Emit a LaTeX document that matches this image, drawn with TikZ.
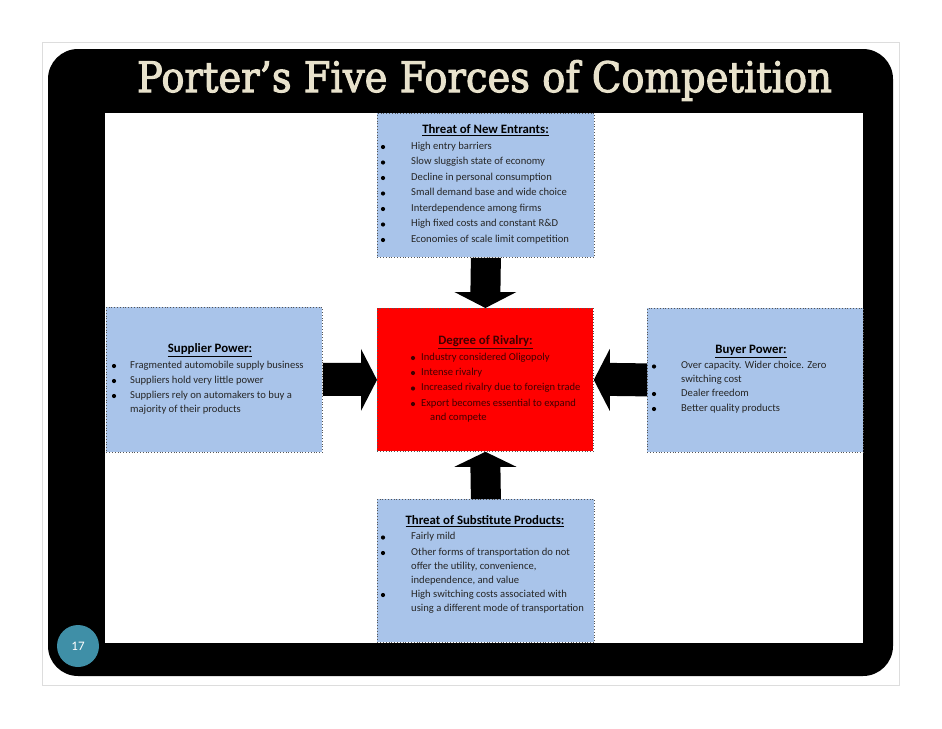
\documentclass[tikz,border=0pt]{standalone}
\usepackage{fontspec}
\usepackage{graphicx}
\setmainfont{Carlito}
\newfontfamily\titlefont[FakeBold=2.5,UprightFeatures={FakeBold=2.5}]{DejaVu Serif}
\usetikzlibrary{calc}
\definecolor{boxblue}{HTML}{A9C4EA}
\definecolor{titlebeige}{HTML}{E8E2CC}
\definecolor{pageteal}{HTML}{3F8FA7}
\definecolor{redtext}{HTML}{420000}
\definecolor{bodygray}{HTML}{262626}
\definecolor{framegray}{HTML}{DDDDDD}
\definecolor{dotgray}{HTML}{555555}
\newlength\titlewd
\tikzset{
  bx/.style={draw=dotgray, dotted, line width=0.8pt, fill=boxblue, inner sep=0pt, anchor=north west},
  txt/.style={anchor=mid west, inner sep=0pt, font=\fontsize{10.6}{12}\selectfont, text=bodygray},
  hd/.style={anchor=mid, inner sep=0pt, font=\bfseries\fontsize{12.8}{14}\selectfont, text=black},
  dot/.style={circle, fill=black, inner sep=0pt, minimum size=4.2pt},
  bigarrow/.style={fill=black}
}
\begin{document}
\settowidth\titlewd{\titlefont\fontsize{42}{48}\selectfont Porter’s Five Forces of Competition}%
\pgfmathsetmacro\tratio{695/\titlewd}%
\begin{tikzpicture}[x=1pt, y=-1pt]
\useasboundingbox[fill=white] (0,0) rectangle (942,728);
% slide frame
\draw[framegray, line width=0.8pt] (42,42) rectangle (899,685);
\fill[black, rounded corners=30pt] (48,49) rectangle (893,676);
\fill[white] (105,113) rectangle (863,643);
\node[anchor=base, inner sep=0pt, text=titlebeige] (title) at (484.5,92)
  {\scalebox{\tratio}[1]{\titlefont\fontsize{42}{48}\selectfont Porter’s Five Forces of Competition}};
\node[circle, fill=pageteal, minimum size=42pt, inner sep=0pt, text=white, font=\fontsize{13}{14}\selectfont] (page) at (78,646) {17};

% boxes
\node[bx, minimum width=217pt, minimum height=144pt] (top) at (377,113) {};
\node[bx, fill=red, minimum width=216pt, minimum height=143pt] (mid) at (377,308) {};
\node[bx, minimum width=216pt, minimum height=145pt] (sup) at (106,307) {};
\node[bx, minimum width=216pt, minimum height=144pt] (buy) at (647,308) {};
\node[bx, minimum width=217pt, minimum height=143pt] (bot) at (377,499) {};

% arrows
\fill[bigarrow] ($(top.south)+(-15,0)$) -- ($(mid.north)+(-15,-16)$) -- ($(mid.north)+(-31,-16)$)
  -- (mid.north) -- ($(mid.north)+(31,-16)$) -- ($(mid.north)+(15,-16)$) -- ($(top.south)+(15,0)$) -- cycle;
\fill[bigarrow] ($(bot.north)+(-15,0)$) -- ($(mid.south)+(-15,15)$) -- ($(mid.south)+(-31,15)$)
  -- (mid.south) -- ($(mid.south)+(31,15)$) -- ($(mid.south)+(15,15)$) -- ($(bot.north)+(15,0)$) -- cycle;
\fill[bigarrow] ($(sup.east)+(0,-17)$) -- ($(mid.west)+(-16,-17)$) -- ($(mid.west)+(-16,-31)$)
  -- (mid.west) -- ($(mid.west)+(-16,31)$) -- ($(mid.west)+(-16,16)$) -- ($(sup.east)+(0,16)$) -- cycle;
\fill[bigarrow] ($(buy.west)+(0,-17)$) -- ($(mid.east)+(16,-17)$) -- ($(mid.east)+(16,-31)$)
  -- (mid.east) -- ($(mid.east)+(16,31)$) -- ($(mid.east)+(16,16)$) -- ($(buy.west)+(0,16)$) -- cycle;

% top box text
\node[hd] (tth) at (485.5,131) {\underline{Threat of New Entrants:}};
\node[dot] (tb1) at (383,147) {}; \node[txt] (tt1) at (411,147) {High entry barriers};
\node[dot] (tb2) at (383,162.5) {}; \node[txt] (tt2) at (411,162.5) {Slow sluggish state of economy};
\node[dot] (tb3) at (383,178) {}; \node[txt] (tt3) at (411,178) {Decline in personal consumption};
\node[dot] (tb4) at (383,193.5) {}; \node[txt] (tt4) at (411,193.5) {Small demand base and wide choice};
\node[dot] (tb5) at (383,209) {}; \node[txt] (tt5) at (411,209) {Interdependence among firms};
\node[dot] (tb6) at (383,224.5) {}; \node[txt] (tt6) at (411,224.5) {High fixed costs and constant R\&D};
\node[dot] (tb7) at (383,240) {}; \node[txt] (tt7) at (411,240) {Economies of scale limit competition};

% supplier text
\node[hd] (sh) at (210,350) {\underline{Supplier Power:}};
\node[dot] (sb1) at (114,366) {}; \node[txt] (st1) at (130,366) {Fragmented automobile supply business};
\node[dot] (sb2) at (114,381) {}; \node[txt] (st2) at (130,381) {Suppliers hold very little power};
\node[dot] (sb3) at (114,396) {}; \node[txt] (st3) at (130,396) {Suppliers rely on automakers to buy a};
\node[txt] (st4) at (130,410.5) {majority of their products};

% buyer text
\node[hd] (bh) at (751,351) {\underline{Buyer Power:}};
\node[dot] (bb1) at (654,366.5) {}; \node[txt] (bt1) at (681,366.5) {Over capacity. Wider choice. Zero};
\node[txt] (bt2) at (681,380) {switching cost};
\node[dot] (bb3) at (654,394) {}; \node[txt] (bt3) at (681,394) {Dealer freedom};
\node[dot] (bb4) at (654,409) {}; \node[txt] (bt4) at (681,409) {Better quality products};

% rivalry text
\node[hd, text=redtext] (rh) at (485.5,342.5) {\underline{Degree of Rivalry:}};
\node[dot, fill=redtext] (rb1) at (413,358) {}; \node[txt, text=redtext] (rt1) at (421,358) {Industry considered Oligopoly};
\node[dot, fill=redtext] (rb2) at (413,373) {}; \node[txt, text=redtext] (rt2) at (421,373) {Intense rivalry};
\node[dot, fill=redtext] (rb3) at (413,388.5) {}; \node[txt, text=redtext] (rt3) at (421,388.5) {Increased rivalry due to foreign trade};
\node[dot, fill=redtext] (rb4) at (413,404) {}; \node[txt, text=redtext] (rt4) at (421,404) {Export becomes essential to expand};
\node[txt, text=redtext] (rt5) at (430,418.5) {and compete};

% substitute text
\node[hd] (uh) at (485,522) {\underline{Threat of Substitute Products:}};
\node[dot] (ub1) at (383,537.5) {}; \node[txt] (ut1) at (411,537.5) {Fairly mild};
\node[dot] (ub2) at (383,553) {}; \node[txt] (ut2) at (411,553) {Other forms of transportation do not};
\node[txt] (ut3) at (411,567) {offer the utility, convenience,};
\node[txt] (ut4) at (411,581) {independence, and value};
\node[dot] (ub5) at (383,595) {}; \node[txt] (ut5) at (411,595) {High switching costs associated with};
\node[txt] (ut6) at (411,609) {using a different mode of transportation};
\end{tikzpicture}
\end{document}
